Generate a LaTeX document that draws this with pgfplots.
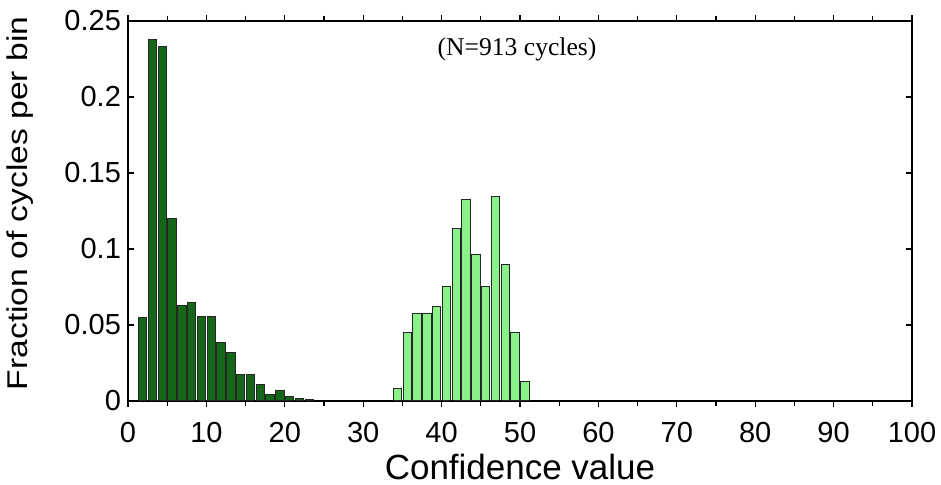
\documentclass[border=0pt]{standalone}
\usepackage{pgfplots}
\pgfplotsset{compat=1.18}
\usepackage{graphicx}
\usepackage{fontspec}
\setmainfont{Liberation Sans}
\newfontfamily\timesfont{Liberation Serif}
\definecolor{darkbar}{RGB}{22,102,26}
\definecolor{lightbar}{RGB}{138,240,138}
\begin{document}
\begin{tikzpicture}
\useasboundingbox (-64pt,-42pt) rectangle (406.5pt,200.5pt);
\begin{axis}[
  scale only axis,
  width=392pt, height=190pt,
  at={(0,0)}, anchor=south west,
  xmin=0, xmax=100, ymin=0, ymax=0.25,
  axis line style={line width=0.8pt},
  xtick={0,10,...,100},
  xticklabels={0,10,20,30,40,50,60,70,80,90,100},
  minor x tick num=1,
  ytick={0,0.05,0.1,0.15,0.2,0.25},
  yticklabels={0,0.05,0.1,0.15,0.2,0.25},
  tick align=inside,
  major tick length=3pt, minor tick length=2.5pt,
  every tick/.style={black, line width=0.6pt},
  tick label style={font=\fontsize{14.5}{16}\selectfont},
  xticklabel style={yshift=-4pt},
  xlabel={Confidence value},
  xlabel style={font=\fontsize{17.5}{20}\selectfont, at={(axis description cs:0.5,-0.2053)}, anchor=base},
  ylabel={\scalebox{1}[0.85]{Fraction of cycles per bin}},
  ylabel style={font=\fontsize{16.8}{20}\selectfont, at={(axis description cs:-0.128,0.52)}, anchor=base},
  ybar, bar width=1.05, bar shift=0pt,
]
\addplot[fill=darkbar, draw=black!85, line width=0.5pt] coordinates {
(1.875,0.0547) (3.125,0.2378) (4.375,0.2334) (5.625,0.1199) (6.875,0.0628)
(8.125,0.0646) (9.375,0.0554) (10.625,0.0554) (11.875,0.0387) (13.125,0.0321)
(14.375,0.0176) (15.625,0.0176) (16.875,0.0110) (18.125,0.0045) (19.375,0.0067)
(20.625,0.0032) (21.875,0.0015) (23.125,0.0008)
};
\addplot[fill=lightbar, draw=black!85, line width=0.5pt] coordinates {
(34.375,0.0080) (35.625,0.0449) (36.875,0.0576) (38.125,0.0576) (39.375,0.0624)
(40.625,0.0755) (41.875,0.1133) (43.125,0.1326) (44.375,0.0966) (45.625,0.0755)
(46.875,0.1343) (48.125,0.0900) (49.375,0.0449) (50.625,0.0128)
};
\node[font=\timesfont\fontsize{12.8}{15}\selectfont, anchor=center] at (axis description cs:0.4962,0.925) {(N=913 cycles)};
\end{axis}
\end{tikzpicture}
\end{document}
